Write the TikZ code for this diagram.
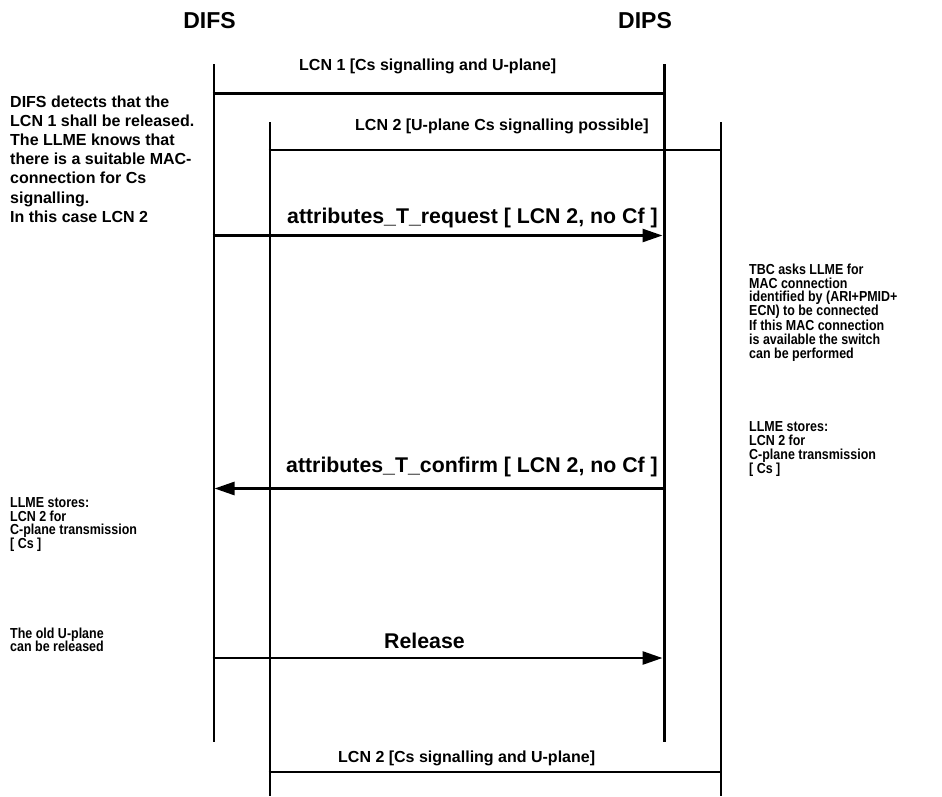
\documentclass[tikz,border=0pt]{standalone}
\usepackage{fontspec}
\setmainfont{Liberation Sans}
\newfontfamily\narrowsans{Liberation Sans}[FakeStretch=0.86]
\usetikzlibrary{arrows.meta}
\begin{document}
\begin{tikzpicture}[x=1pt,y=-1pt,
  head/.style={anchor=base, inner sep=0pt, font=\bfseries\fontsize{23}{27}\selectfont},
  lcnlbl/.style={anchor=base west, inner sep=0pt, font=\bfseries\fontsize{16}{18}\selectfont},
  msglbl/.style={anchor=base west, inner sep=0pt, font=\bfseries\fontsize{21.3}{25}\selectfont},
  bignote/.style={anchor=north west, inner sep=0pt, align=left, font=\bfseries\fontsize{16}{19.2}\selectfont},
  note/.style={anchor=north west, inner sep=0pt, align=left, font=\narrowsans\bfseries\fontsize{14.5}{14.2}\selectfont},
  tightnote/.style={note, font=\narrowsans\bfseries\fontsize{14.5}{13.6}\selectfont},
  lifethin/.style={line width=2pt},
  lifethick/.style={line width=3pt},
  chan/.style={line width=2.5pt},
  msg/.style={line width=2.7pt, -{Triangle[length=20pt,width=13pt]}}
]
\useasboundingbox (0,0) rectangle (942,796);

% headings
\node[head] (difs) at (209.5,28) {DIFS};
\node[head] (dips) at (645,28) {DIPS};

% lifeline end points
\coordinate (aT) at (213.5,64);  \coordinate (aB) at (213.5,742);
\coordinate (bT) at (269.5,122); \coordinate (bB) at (269.5,796);
\coordinate (cT) at (664,64);    \coordinate (cB) at (664,742);
\coordinate (dT) at (721,122);   \coordinate (dB) at (721,796);

\draw[lifethin] (aT) -- (aB);
\draw[lifethin] (bT) -- (bB);
\draw[lifethick] (cT) -- (cB);
\draw[chan] (dT) -- (dB);

% channels
\coordinate (l1a) at (212.5,93);  \coordinate (l1b) at (665.5,93);
\coordinate (l2a) at (268.5,149.5); \coordinate (l2b) at (722,149.5);
\coordinate (l3a) at (268.5,772); \coordinate (l3b) at (722,772);
\draw[lifethick] (l1a) -- (l1b);
\draw[lifethin] (l2a) -- (l2b);
\draw[chan] (l3a) -- (l3b);

\node[lcnlbl] (lcn1) at (299,70) {LCN 1 [Cs signalling and U-plane]};
\node[lcnlbl] (lcn2) at (355,130) {LCN 2 [U-plane Cs signalling possible]};
\node[lcnlbl] (lcn3) at (338,762) {LCN 2 [Cs signalling and U-plane]};

% messages
\coordinate (m1a) at (212.5,235.5); \coordinate (m1b) at (662.5,235.5);
\coordinate (m2a) at (214.5,488.5); \coordinate (m2b) at (662.5,488.5);
\coordinate (m3a) at (212.5,658);   \coordinate (m3b) at (662.5,658);
\draw[msg] (m1a) -- (m1b);
\draw[msg] (m2b) -- (m2a);
\draw[msg] (m3a) -- (m3b);

\node[msglbl] (req) at (287,223) {attributes\_T\_request [ LCN 2, no Cf ]};
\node[msglbl] (conf) at (286,472) {attributes\_T\_confirm [ LCN 2, no Cf ]};
\node[msglbl] (rel) at (384,648) {Release};

% notes
\node[bignote] (n1) at (10,95.3) {DIFS detects that the\\LCN 1 shall be released.\\The LLME knows that\\there is a suitable MAC-\\connection for Cs\\signalling.\\In this case LCN 2};
\node[note] (n2) at (749,263.5) {TBC asks LLME for\\MAC connection\\[-1pt]identified by (ARI+PMID+\\ECN) to be connected\\If this MAC connection\\is available the switch\\can be performed};
\node[note] (n3) at (749,421) {LLME stores:\\LCN 2 for\\C-plane transmission\\{[} Cs ]};
\node[tightnote] (n4) at (10,497.5) {LLME stores:\\LCN 2 for\\C-plane transmission\\{[} Cs ]};
\node[tightnote] (n5) at (10,627.5) {The old U-plane\\can be released};
\end{tikzpicture}
\end{document}
